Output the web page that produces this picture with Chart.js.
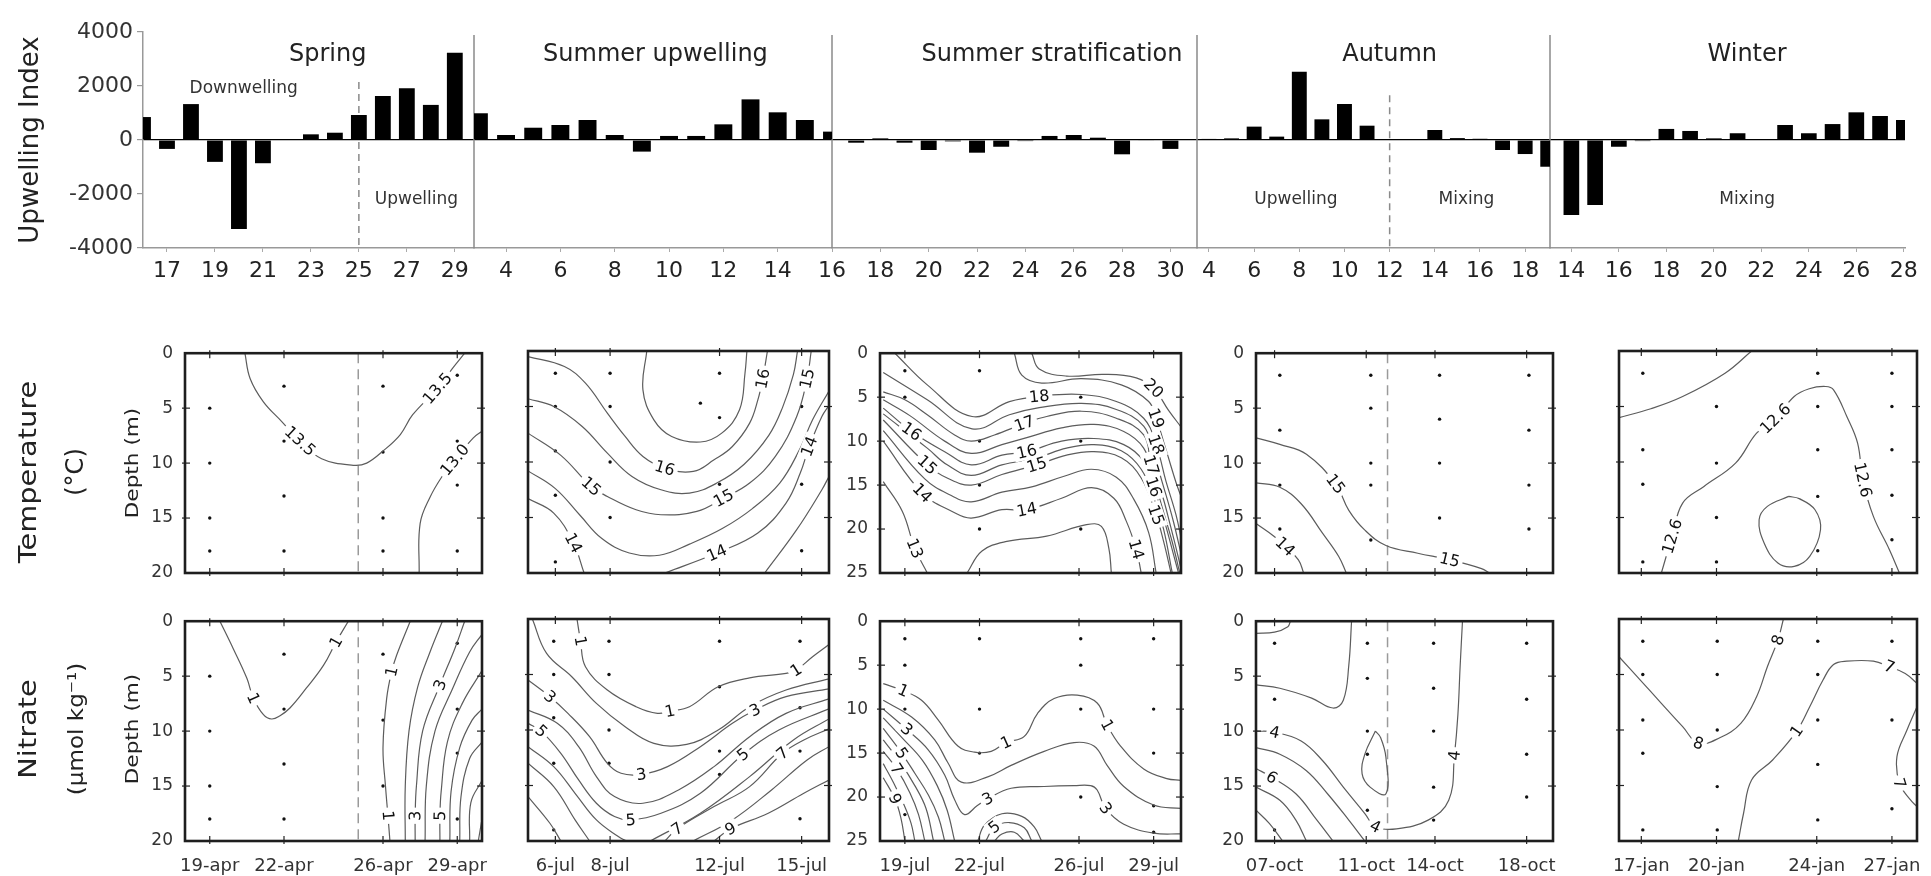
<!DOCTYPE html>
<html>
<head>
<meta charset="utf-8">
<title>Upwelling index, temperature and nitrate by season</title>
<script src="https://cdn.jsdelivr.net/npm/chart.js@4.4.1/dist/chart.umd.min.js"></script>
<style>
  body { margin: 0; background: #fff; }
  #page { position: relative; width: 1931px; height: 876px; overflow: hidden; background: #fff; }
  #page canvas { position: absolute; }
</style>
</head>
<body>
<div id="page"><canvas id="upwelling" width="1931" height="300" style="left:0;top:0"></canvas></div>
<script>
// ---- upwelling index (top bars), one small array per season ----
const springDays = [16, 17, 18, 19, 20, 21, 22, 23, 24, 25, 26, 27, 28, 29];
const springUI = [850, -330, 1330, -810, -3300, -860, 0, 210, 270, 925, 1630, 1915, 1300, 3230];
const springTicks = [17, 19, 21, 23, 25, 27, 29];

const sumUpDays = [3, 4, 5, 6, 7, 8, 9, 10, 11, 12, 13, 14, 15, 16];
const sumUpUI = [990, 185, 455, 555, 740, 185, -430, 150, 150, 580, 1505, 1025, 740, 310];
const sumUpTicks = [4, 6, 8, 10, 12, 14];

const sumStratDays = [17, 18, 19, 20, 21, 22, 23, 24, 25, 26, 27, 28, 29, 30];
const sumStratUI = [-100, 60, -100, -370, -50, -470, -250, -40, 150, 185, 85, -530, -20, -330];
const sumStratTicks = [16, 18, 20, 22, 24, 26, 28, 30];

const autumnDays = [4, 5, 6, 7, 8, 9, 10, 11, 12, 13, 14, 15, 16, 17, 18, 19];
const autumnUI = [40, 60, 495, 125, 2530, 765, 1333, 530, 25, 30, 370, 70, 45, -370, -520, -990];
const autumnTicks = [4, 6, 8, 10, 12, 14, 16, 18];

const winterDays = [14, 15, 16, 17, 18, 19, 20, 21, 22, 23, 24, 25, 26, 27, 28];
const winterUI = [-2780, -2410, -250, -40, 410, 335, 60, 250, 30, 555, 250, 590, 1025, 890, 740];
const winterTicks = [14, 16, 18, 20, 22, 24, 26, 28];

const seasonNames = ['Spring', 'Summer upwelling', 'Summer stratification', 'Autumn', 'Winter'];
const seasonTitleDay = [23.7, 9.5, 25.1, 12.0, 21.4];
const regimeText = ['Downwelling', 'Upwelling', 'Upwelling', 'Mixing', 'Mixing'];
const regimeSeason = [0, 0, 3, 3, 4];
const regimeDay = [20.2, 27.4, 7.85, 15.4, 21.4];
const regimeUI = [1920, -2220, -2220, -2220, -2220];
const dashedDays = [[0, 25, 2150], [3, 12, 1660]]; // season, day, top of line (index units)

// ---- contour panels: date ticks ----
const springPanelDays = [19, 22, 26, 29];
const springPanelLabels = ['19-apr', '22-apr', '26-apr', '29-apr'];
const sumUpPanelDays = [6, 8, 12, 15];
const sumUpPanelLabels = ['6-jul', '8-jul', '12-jul', '15-jul'];
const sumStratPanelDays = [19, 22, 26, 29];
const sumStratPanelLabels = ['19-jul', '22-jul', '26-jul', '29-jul'];
const autumnPanelDays = [7, 11, 14, 18];
const autumnPanelLabels = ['07-oct', '11-oct', '14-oct', '18-oct'];
const winterPanelDays = [17, 20, 24, 27];
const winterPanelLabels = ['17-jan', '20-jan', '24-jan', '27-jan'];

// ---- sampling stations: [day, depths] ----
const springSt = [[19, [5, 10, 15, 18]], [22, [3, 8, 13, 18]], [26, [3, 9, 15, 18]], [29, [2, 8, 12, 18]]];
const sumUpTSt = [[6, [2, 5, 9, 13, 19]], [8, [2, 5, 10, 15]], [11.3, [4.7]], [12, [2, 6, 12]], [15, [5, 12, 18]]];
const sumUpNSt = [[5.94, [2, 5, 8.9, 13, 19]], [7.96, [2, 5, 10, 13]], [12, [2, 6.1, 11.9, 14]], [14.94, [2, 8, 11.9, 18]]];
const sumStratTSt = [[19, [2, 5]], [22, [2, 10, 15, 20]], [26.07, [5, 10, 20]]];
const sumStratNSt = [[19, [2, 5, 10, 15, 22]], [22, [2, 10, 15]], [26.07, [2, 5, 10, 20]], [29, [2, 10, 15, 21, 24]]];
const autumnTSt = [[7.23, [2, 7, 12, 16]], [11.2, [2, 5, 10, 12, 17]], [14.2, [2, 6, 10, 15]], [18.1, [2, 7, 12, 16]]];
const autumnNSt = [[7, [2, 7.1, 19]], [11.05, [2, 5.2, 10, 12.1, 17.2]], [13.94, [2, 6.1, 10, 15.1, 18.1]], [18, [2, 7.1, 12.1, 16]]];
const winterTSt = [[17.06, [2, 8.9, 12, 19]], [20, [5, 10.1, 15, 19]], [24.04, [2, 5, 8.9, 13.1, 18]], [27, [2, 5, 8.9, 13, 17]]];
const winterNSt = [[17.06, [2, 5, 9.1, 12.1, 19]], [20.03, [2, 5, 10, 15.1, 19]], [24.04, [2, 5, 9.1, 13.1, 18.1]], [27, [2, 9.1, 17.1]]];

// ---- contour lines: [day, depth], lab = indexes carrying a label ----
const springTempC = [
  {lev: '13.5', pts: [[20.42, 0], [20.63, 2.3], [21.16, 4.4], [21.9, 6.2], [22.65, 8.0], [23.52, 9.6], [24.8, 10.2], [25.34, 10.0], [26.0, 8.9], [26.7, 7.4], [27.2, 5.6], [28.2, 3.2], [28.8, 1.4], [29.3, 0]], lab: [4, 11]},
  {lev: '13.0', pts: [[27.46, 20], [27.5, 15.5], [27.9, 13.1], [28.45, 11.0], [28.9, 9.7], [29.65, 7.7], [30, 7.1]], lab: [4]}
];
const springNitC = [
  {lev: '1', pts: [[19.41, 0], [19.95, 2.5], [20.5, 5.2], [20.76, 7.0], [21.17, 8.5], [21.5, 8.9], [21.84, 8.6], [22.24, 7.9], [22.9, 6.1], [23.6, 4.0], [24.1, 1.9], [24.6, 0]], lab: [3, 10]},
  {lev: '1', pts: [[27.1, 0], [26.55, 3.1], [26.35, 4.6], [26.15, 7.0], [26.0, 11.5], [26.1, 15], [26.2, 17.7], [26.28, 20]], lab: [2, 6]},
  {lev: '2', pts: [[26.9, 20], [26.9, 15], [27.05, 10], [27.4, 6], [27.9, 2.8], [28.4, 0]], lab: []},
  {lev: '3', pts: [[27.3, 20], [27.3, 17.7], [27.35, 15], [27.6, 10], [28.3, 5.8], [28.9, 2.5], [29.3, 0]], lab: [1, 4]},
  {lev: '4', pts: [[27.7, 20], [27.75, 15], [28.1, 10], [28.8, 6.2], [29.5, 2.8], [30, 1.2]], lab: []},
  {lev: '5', pts: [[28.3, 20], [28.3, 17.7], [28.35, 15.5], [28.6, 11], [29.2, 7.5], [30, 4.5]], lab: [1]},
  {lev: '6', pts: [[28.7, 20], [28.75, 15.5], [29.1, 11.5], [29.6, 9], [30, 8]], lab: []},
  {lev: '7', pts: [[29.1, 20], [29.15, 16], [29.5, 12.5], [30, 11]], lab: []},
  {lev: '8', pts: [[29.5, 20], [29.55, 16.5], [30, 14.5]], lab: []},
  {lev: '9', pts: [[29.85, 20], [30, 18]], lab: []}
];
const sumUpTempC = [
  {lev: '16.5', pts: [[9.34, 0], [9.2, 3.5], [9.6, 6.2], [10.25, 7.7], [11.3, 8.2], [12.08, 7.4], [12.73, 5.3], [12.93, 2], [13.0, 0]], lab: []},
  {lev: '16', pts: [[5, 0.5], [6.33, 1.4], [7.1, 2.9], [7.9, 5.6], [8.55, 7.7], [9.2, 9.5], [10, 10.55], [11.04, 10.85], [11.8, 9.8], [12.47, 8.6], [13.1, 6.5], [13.4, 4.4], [13.58, 2.5], [13.75, 0]], lab: [6, 12]},
  {lev: '15.5', pts: [[5, 4.3], [5.94, 5], [6.98, 6.8], [7.9, 9.2], [8.8, 11.3], [9.86, 12.5], [10.9, 12.8], [11.9, 11.9], [12.9, 10.2], [13.8, 7.6], [14.3, 5.1], [14.7, 2.1], [14.85, 0]], lab: []},
  {lev: '15', pts: [[5, 7.4], [6.2, 9.4], [7.31, 12.2], [7.9, 13.1], [8.95, 14.3], [9.86, 14.75], [11.17, 14.45], [12.15, 13.25], [13.1, 11.9], [14.04, 9.5], [14.82, 5.9], [15.2, 2.5], [15.35, 0]], lab: [2, 7, 11]},
  {lev: '14.5', pts: [[5, 10.8], [6, 12.4], [6.9, 14.8], [7.7, 16.9], [8.7, 18.2], [9.8, 18.4], [10.9, 17.4], [12.1, 16.0], [13.2, 14.2], [14.2, 11.9], [14.9, 9.0], [15.4, 6.2], [16, 3.6]], lab: []},
  {lev: '14', pts: [[5, 13.3], [5.94, 14.6], [6.66, 17.3], [7.05, 20]], lab: [2]},
  {lev: '14', pts: [[10, 20], [11.9, 18.2], [13.4, 16.4], [14.43, 13.7], [14.95, 11], [15.28, 8.6], [15.74, 5.9], [16, 4.9]], lab: [1, 5]},
  {lev: '13.5', pts: [[13.65, 20], [14.82, 16.1], [15.74, 12.5], [16, 11.3]], lab: []}
];
const sumUpNitC = [
  {lev: '1', pts: [[6.79, 0], [6.92, 2.0], [7.1, 4.3], [7.9, 6.4], [8.95, 7.9], [9.73, 8.5], [10.19, 8.3], [10.9, 7.9], [11.95, 6.1], [13.1, 5.3], [14.43, 4.9], [14.8, 4.6], [15.4, 3.4], [16, 2.3]], lab: [1, 6, 11]},
  {lev: '2', pts: [[5.16, 0], [5.68, 3.1], [6.6, 5.2], [7.5, 7.6], [8.55, 9.7], [9.6, 11.2], [10.8, 11.3], [11.95, 10], [13.1, 7.9], [14.43, 6.4], [16, 5.4]], lab: []},
  {lev: '3', pts: [[5, 5.5], [5.8, 7], [6.46, 8.5], [7.25, 10.6], [7.9, 13], [8.4, 13.9], [9.14, 14], [10.1, 13.3], [11.3, 11.5], [12.47, 9.4], [13.3, 8.2], [14.43, 7], [16, 6.3]], lab: [1, 6, 10]},
  {lev: '4', pts: [[5, 8.2], [6.07, 9.4], [6.85, 11.5], [7.5, 14.2], [8.16, 16], [9.2, 16.6], [10.5, 15.4], [11.8, 13.3], [13.1, 10.6], [14.43, 8.5], [16, 7.2]], lab: []},
  {lev: '5', pts: [[5, 9.4], [5.48, 10.1], [6.2, 12.1], [6.85, 14.5], [7.5, 16.6], [8.16, 17.8], [8.75, 18.1], [9.86, 17.5], [11.3, 15.7], [12.86, 12.2], [14.17, 10], [16, 8.1]], lab: [1, 6, 9]},
  {lev: '6', pts: [[5, 11.5], [5.94, 13.3], [6.72, 15.7], [7.5, 18.1], [8.3, 19.6], [8.6, 20]], lab: []},
  {lev: '6', pts: [[9.47, 20], [11.3, 17.5], [13.1, 14.2], [14.7, 10.9], [16, 9.0]], lab: []},
  {lev: '7', pts: [[5, 13], [5.94, 15.1], [6.72, 18.1], [7.25, 20]], lab: []},
  {lev: '7', pts: [[10, 20], [10.45, 18.9], [11.8, 16.9], [13.1, 15.1], [14.3, 12.1], [15.08, 10.9], [16, 9.9]], lab: [1, 4]},
  {lev: '8', pts: [[5, 16], [5.8, 18.4], [6.2, 20]], lab: []},
  {lev: '8', pts: [[11.04, 20], [12.47, 18.1], [13.9, 15.4], [15.2, 12.7], [16, 11.5]], lab: []},
  {lev: '9', pts: [[11.8, 20], [12.4, 18.9], [13.78, 17.5], [15.08, 15.7], [16, 14.5]], lab: [1]}
];
const sumStratTempC = [
  {lev: '20', pts: [[24.1, 0], [24.4, 1.8], [25.5, 2.6], [27.0, 2.4], [28.3, 2.8], [29.0, 4.0], [29.6, 6.5], [30.13, 8.5]], lab: [5]},
  {lev: '19', pts: [[23.4, 0], [23.7, 2.5], [24.5, 3.4], [26.1, 2.9], [27.7, 3.6], [28.8, 5.5], [29.1, 7.4], [29.5, 11], [29.9, 14.7], [30.13, 16.5]], lab: [6]},
  {lev: '18', pts: [[18.6, 0], [19.9, 3.6], [21.7, 7.2], [23.2, 5.5], [24.4, 4.9], [26.1, 4.7], [27.5, 5.5], [28.6, 7.4], [29.1, 10.4], [29.5, 14.6], [29.9, 18.4], [30.13, 21.4]], lab: [4, 8]},
  {lev: '17.5', pts: [[18.13, 2.2], [19.9, 5.3], [21.7, 8.6], [23.2, 7.0], [24.4, 6.2], [26.1, 5.7], [27.5, 6.4], [28.6, 8.3], [29.0, 11.5], [29.4, 15.2], [29.8, 19.2], [30.13, 23.2]], lab: []},
  {lev: '17', pts: [[18.13, 4.4], [19, 5.3], [19.9, 7], [21, 9.3], [21.67, 10], [22.6, 9.3], [23.8, 8], [24.7, 7.2], [26.1, 6.6], [27.5, 7.4], [28.6, 9.3], [28.9, 12.7], [29.3, 15.7], [29.7, 19.9], [30, 23.3], [30.13, 25]], lab: [6, 11]},
  {lev: '16.5', pts: [[18.13, 5.3], [19.2, 7.1], [20.6, 10.0], [21.67, 11.4], [22.9, 10.4], [23.9, 9.6], [25.3, 8.5], [26.6, 8.1], [27.8, 8.9], [28.6, 10.8], [29.0, 14.2], [29.35, 17.6], [29.75, 21.5], [30.05, 25]], lab: []},
  {lev: '16', pts: [[18.13, 6.25], [19.27, 8.9], [20.6, 11.2], [21.67, 12.7], [22.9, 11.6], [23.9, 11.2], [25.3, 10], [26.6, 9.7], [27.8, 10.4], [28.6, 12.3], [29.0, 15.2], [29.4, 18.75], [29.8, 22.9], [30.0, 25]], lab: [1, 5, 10]},
  {lev: '15.5', pts: [[18.13, 6.9], [19.9, 10.8], [20.7, 12.7], [21.67, 13.9], [22.9, 12.7], [24.3, 11.9], [25.5, 10.8], [26.6, 10.4], [27.7, 11.1], [28.5, 13.2], [29.05, 16.8], [29.4, 20], [29.75, 25]], lab: []},
  {lev: '15', pts: [[18.13, 7.6], [19.9, 12.7], [20.7, 14.2], [21.67, 15], [22.9, 13.8], [24.3, 12.7], [25.5, 11.6], [26.6, 11.2], [27.7, 11.9], [28.5, 14.2], [29.1, 18.4], [29.4, 21.4], [29.7, 25]], lab: [1, 5, 10]},
  {lev: '14.5', pts: [[18.13, 8.8], [19.8, 14.3], [20.8, 16.1], [21.67, 16.9], [22.9, 15.8], [24.1, 15.2], [25.4, 14], [26.5, 13.2], [27.5, 14.1], [28.2, 16.6], [28.8, 20.4], [29.1, 25]], lab: []},
  {lev: '14', pts: [[18.13, 10], [19.7, 15.9], [20.9, 18], [21.67, 18.75], [22.9, 17.8], [23.9, 17.8], [25.3, 16.5], [26.5, 15.3], [27.4, 16.5], [27.9, 19.1], [28.3, 22.3], [28.5, 25]], lab: [1, 5, 10]},
  {lev: '13', pts: [[18.13, 14.6], [18.9, 18], [19.4, 22.2], [19.9, 25]], lab: [2]},
  {lev: '13', pts: [[21.5, 25], [22.1, 22.5], [23.1, 21.4], [24.7, 20.8], [26.3, 19.5], [26.9, 19.7], [27.2, 22.2], [27.3, 25]], lab: []}
];
const sumStratNitC = [
  {lev: '1', pts: [[18.13, 7.1], [18.93, 7.9], [19.67, 9], [20.33, 11.2], [21.13, 14.2], [21.8, 14.9], [22.47, 14.8], [23.07, 13.8], [23.8, 13.1], [24.33, 10.5], [25, 8.8], [25.93, 8.4], [26.73, 9.3], [27.13, 11.8], [27.67, 14.2], [28.6, 16.8], [29.53, 17.9], [30.1, 18.1]], lab: [1, 7, 13]},
  {lev: '2', pts: [[18.13, 9], [19.27, 10.9], [20.2, 13.5], [20.73, 16.1], [21.27, 18.3], [22.33, 17.7], [23.27, 16.4], [24.6, 14.8], [25.8, 13.8], [26.6, 14.2], [27.13, 16.4], [27.8, 18.8], [29, 20.9], [30.1, 21.3]], lab: []},
  {lev: '3', pts: [[18.13, 10], [19.07, 12.3], [19.93, 14.6], [20.6, 17.5], [21.0, 20.3], [21.4, 22.0], [21.9, 21.0], [22.33, 20.2], [23.27, 19], [24.6, 18.8], [25.8, 18.7], [26.47, 18.7], [26.73, 19.2], [27.07, 21.3], [27.8, 23.1], [29, 24.1], [30.1, 24.2]], lab: [1, 7, 13]},
  {lev: '4', pts: [[18.13, 11], [18.9, 13.3], [19.7, 15.8], [20.3, 18.7], [20.7, 21.5], [21.0, 25]], lab: []},
  {lev: '5', pts: [[18.13, 12.2], [18.87, 15], [19.4, 17.3], [19.95, 19.8], [20.35, 22.3], [20.6, 25]], lab: [1]},
  {lev: '6', pts: [[18.13, 13.5], [18.8, 16.0], [19.4, 18.7], [19.85, 21.3], [20.15, 25]], lab: []},
  {lev: '7', pts: [[18.13, 14.8], [18.67, 16.8], [19.2, 19.5], [19.55, 22], [19.8, 25]], lab: [1]},
  {lev: '8', pts: [[18.13, 16.2], [18.55, 18.4], [18.95, 20.8], [19.25, 23], [19.4, 25]], lab: []},
  {lev: '9', pts: [[18.13, 17.8], [18.6, 20.2], [18.85, 22.5], [19.0, 25]], lab: [1]},
  {lev: '4', pts: [[21.93, 25], [22.2, 23.2], [22.9, 21.9], [23.7, 22.2], [24.2, 23.4], [24.5, 25]], lab: []},
  {lev: '5', pts: [[22.25, 25], [22.6, 23.4], [23.2, 22.9], [23.8, 23.5], [24.1, 25]], lab: [1]},
  {lev: '6', pts: [[22.6, 25], [22.9, 24.2], [23.4, 24.0], [23.8, 25]], lab: []}
];
const autumnTempC = [
  {lev: '15', pts: [[6.19, 7.7], [7.23, 8.3], [8.39, 9.2], [9.66, 11.9], [10.24, 14.3], [10.94, 16.1], [11.86, 17.5], [13.25, 18.2], [14.64, 18.8], [16.03, 19.6], [16.38, 20]], lab: [3, 8]},
  {lev: '14.5', pts: [[6.19, 11.8], [7.23, 12.2], [8.16, 13.7], [9.1, 16.4], [9.8, 18.5], [10.13, 20]], lab: []},
  {lev: '14', pts: [[6.19, 15.5], [7, 16.7], [7.46, 17.6], [8.04, 18.8], [8.27, 20]], lab: [2]}
];
const autumnNitC = [
  {lev: '3', pts: [[6.19, 1.1], [7, 1], [7.58, 0.5], [7.69, 0]], lab: []},
  {lev: '3', pts: [[6.19, 5.8], [7.23, 6.1], [8.62, 7], [9.55, 7.9], [10, 7.2], [10.24, 4], [10.36, 0]], lab: []},
  {lev: '4', pts: [[6.19, 10], [7, 10.1], [8.16, 10.9], [9.1, 12.7], [10, 15.1], [10.94, 17.5], [11.4, 18.7], [12.32, 18.9], [13.7, 18.1], [14.6, 16.3], [14.85, 12.2], [15, 8.5], [15.1, 4], [15.2, 0]], lab: [1, 6, 10]},
  {lev: '5', pts: [[6.19, 11.5], [7.23, 12.1], [8.39, 13.6], [9.31, 15.7], [10.24, 18.1], [10.94, 20]], lab: []},
  {lev: '6', pts: [[6.19, 13.4], [6.88, 14.2], [7.93, 15.7], [8.85, 18.1], [9.55, 20]], lab: [1]},
  {lev: '7', pts: [[6.19, 15.1], [7.23, 16.3], [7.93, 18.1], [8.39, 20]], lab: []},
  {lev: '8', pts: [[6.19, 17.2], [6.77, 18.4], [7.35, 20]], lab: []},
  {lev: '3', pts: [[11.4, 10], [10.94, 12.1], [10.82, 13.9], [11.17, 15.1], [11.86, 15.7], [11.86, 12.4], [11.63, 10.6], [11.4, 10]], lab: []}
];
const winterTempC = [
  {lev: '12.8', pts: [[21.4, 0], [20.34, 2], [18.65, 4.1], [17.38, 5.2], [16.11, 6]], lab: []},
  {lev: '12.6', pts: [[17.8, 20], [18.23, 16.7], [18.65, 13.7], [19.5, 12.2], [20.76, 10.1], [21.6, 7.4], [22.35, 6.1], [23.1, 4.1], [23.7, 3.4], [24.36, 3.2], [24.67, 3.5], [25.2, 5.9], [25.63, 8.3], [25.84, 11.6], [26.26, 14.9], [26.9, 17.9], [27.3, 20]], lab: [1, 6, 13]},
  {lev: '12.4', pts: [[22.88, 13.1], [22.03, 14], [21.7, 15.2], [21.9, 17.3], [22.45, 19.1], [23.1, 19.4], [23.72, 18.5], [24.15, 16.1], [23.93, 14.3], [23.3, 13.3], [22.88, 13.1]], lab: []}
];
const winterNitC = [
  {lev: '8', pts: [[16.11, 3.4], [16.96, 5.5], [17.8, 7.6], [18.65, 9.7], [19.28, 11.2], [20.13, 10.7], [20.97, 9.4], [21.6, 7], [22.03, 4.3], [22.45, 1.9], [22.67, 0]], lab: [4, 9]},
  {lev: '7', pts: [[20.87, 20], [21.08, 17.5], [21.4, 14.5], [22.24, 12.7], [23.2, 10.1], [23.72, 7.9], [24.25, 5.5], [24.67, 4.1], [25.2, 3.8], [26.26, 3.8], [26.9, 4.3], [27.53, 4.9], [28, 5.8]], lab: [4, 10], txt: ['1', '7']},
  {lev: '7', pts: [[28, 7.9], [27.6, 10], [27.2, 12.4], [27.3, 14.8], [27.74, 16.3], [28, 16.9]], lab: [3]}
];

Chart.defaults.font.family = "'DejaVu Sans', 'Liberation Sans', sans-serif";
Chart.defaults.animation = false;

const page = document.getElementById('page');

function drawText(ctx, s, x, y, font, color, rot, sx) {
  ctx.save();
  ctx.translate(x, y);
  if (rot) ctx.rotate(rot);
  if (sx) ctx.scale(sx, 1);
  ctx.font = font;
  ctx.fillStyle = color;
  ctx.textAlign = 'center';
  ctx.textBaseline = 'middle';
  ctx.fillText(s, 0, 0);
  ctx.restore();
}

// ---------------- top chart ----------------
const seasons = [
  {days: springDays, ui: springUI, ticks: springTicks, min: 16, max: 29.8, w: 331},
  {days: sumUpDays, ui: sumUpUI, ticks: sumUpTicks, min: 2.82, max: 16, w: 358},
  {days: sumStratDays, ui: sumStratUI, ticks: sumStratTicks, min: 16, max: 31.1, w: 365},
  {days: autumnDays, ui: autumnUI, ticks: autumnTicks, min: 3.47, max: 19.1, w: 353},
  {days: winterDays, ui: winterUI, ticks: winterTicks, min: 13.1, max: 28.05, w: 355}
];

const topScales = {
  y: {
    min: -4000, max: 4000,
    ticks: {stepSize: 2000, font: {size: 22}, color: '#333', padding: 4, callback: v => String(v)},
    grid: {
      color: c => (c.tick && c.tick.value === 0 ? '#000' : 'rgba(0,0,0,0)'),
      lineWidth: 1.2, tickColor: '#999', tickLength: 6
    },
    border: {color: '#999', width: 1.5},
    title: {display: true, text: 'Upwelling Index', font: {size: 26}, color: '#222'},
    afterFit: s => { s.width = 131; }
  }
};
seasons.forEach((s, i) => {
  topScales['x' + i] = {
    type: 'linear', position: 'bottom', stack: 'season', stackWeight: s.w,
    min: s.min, max: s.max, offset: false,
    afterBuildTicks: sc => { sc.ticks = s.ticks.map(v => ({value: v})); },
    ticks: {font: {size: 22}, color: '#222', padding: 6, autoSkip: false, maxRotation: 0, minRotation: 0},
    grid: {drawOnChartArea: false, offset: false, tickLength: 4, color: '#aaa'},
    border: {color: '#999', width: 1.5},
    afterFit: sc => { sc.height = 50; }
  };
});

const upwellingDecor = {
  id: 'upwellingDecor',
  beforeDatasetsDraw(chart) {
    const {ctx, chartArea: a, scales: sc} = chart;
    ctx.save();
    ctx.strokeStyle = '#8a8a8a';
    ctx.lineWidth = 1.5;
    for (let i = 1; i < seasons.length; i++) {
      const x = sc['x' + i].left;
      ctx.beginPath(); ctx.moveTo(x, a.top + 3); ctx.lineTo(x, a.bottom); ctx.stroke();
    }
    ctx.setLineDash([7, 5]);
    dashedDays.forEach(([si, day, top]) => {
      const x = sc['x' + si].getPixelForValue(day);
      ctx.beginPath(); ctx.moveTo(x, sc.y.getPixelForValue(top)); ctx.lineTo(x, a.bottom); ctx.stroke();
    });
    ctx.restore();
  },
  afterDatasetsDraw(chart) {
    const {ctx, scales: sc} = chart;
    const ty = sc.y.getPixelForValue(3150);
    seasonNames.forEach((n, i) => {
      drawText(ctx, n, sc['x' + i].getPixelForValue(seasonTitleDay[i]), ty, '24px "DejaVu Sans"', '#222');
    });
    regimeText.forEach((t, i) => {
      const x = sc['x' + regimeSeason[i]].getPixelForValue(regimeDay[i]);
      drawText(ctx, t, x, sc.y.getPixelForValue(regimeUI[i]), '17px "DejaVu Sans"', '#333');
    });
  }
};

new Chart(document.getElementById('upwelling'), {
  type: 'bar',
  data: {
    datasets: seasons.map((s, i) => ({
      xAxisID: 'x' + i, yAxisID: 'y',
      data: s.days.map((d, j) => ({x: d, y: s.ui[j]})),
      backgroundColor: '#000', barPercentage: 0.66, categoryPercentage: 1, grouped: false
    }))
  },
  options: {
    responsive: false, animation: false, events: [],
    layout: {padding: {left: 12, top: 32, right: 26, bottom: 2}},
    plugins: {legend: {display: false}, tooltip: {enabled: false}},
    scales: topScales
  },
  plugins: [upwellingDecor]
});

// ---------------- contour panels ----------------
function panelDecor(p) {
  return {
    id: 'panelDecor',
    beforeDatasetsDraw(chart) {
      if (p.dash == null) return;
      const {ctx, chartArea: a, scales: {x}} = chart;
      const px = x.getPixelForValue(p.dash);
      ctx.save();
      ctx.strokeStyle = '#9a9a9a'; ctx.lineWidth = 1.5; ctx.setLineDash([10, 6]);
      ctx.beginPath(); ctx.moveTo(px, a.top); ctx.lineTo(px, a.bottom); ctx.stroke();
      ctx.restore();
    },
    afterDatasetsDraw(chart) {
      const {ctx, scales: {x, y}} = chart;
      const P = q => [x.getPixelForValue(q[0]), y.getPixelForValue(q[1])];
      ctx.save();
      ctx.font = '16px "DejaVu Sans"';
      ctx.textAlign = 'center'; ctx.textBaseline = 'middle';
      p.lines.forEach(c => {
        c.lab.forEach((i, k) => {
          const n = c.pts.length;
          const p0 = P(c.pts[Math.max(i - 1, 0)]), p1 = P(c.pts[Math.min(i + 1, n - 1)]), pc = P(c.pts[i]);
          let ang = Math.atan2(p1[1] - p0[1], p1[0] - p0[0]);
          if (ang > Math.PI / 2) ang -= Math.PI;
          if (ang < -Math.PI / 2) ang += Math.PI;
          const s = c.txt ? c.txt[k] : c.lev;
          const w = ctx.measureText(s).width;
          ctx.save();
          ctx.translate(pc[0], pc[1]); ctx.rotate(ang);
          ctx.fillStyle = '#fff'; ctx.fillRect(-w / 2 - 3, -8, w + 6, 16);
          ctx.fillStyle = '#111'; ctx.fillText(s, 0, 1);
          ctx.restore();
        });
      });
      ctx.restore();
    },
    afterDraw(chart) {
      const {ctx, chartArea: a, scales: {x, y}} = chart;
      ctx.save();
      ctx.strokeStyle = '#222'; ctx.lineWidth = 1.2;
      const seg = (x0, y0, x1, y1) => { ctx.beginPath(); ctx.moveTo(x0, y0); ctx.lineTo(x1, y1); ctx.stroke(); };
      p.days.forEach(v => {
        const px = x.getPixelForValue(v);
        seg(px, a.top - 3, px, a.top + 5); seg(px, a.bottom + 3, px, a.bottom - 5);
      });
      y.ticks.forEach(t => {
        if (t.value <= 0 || t.value >= p.depth) return;
        const py = y.getPixelForValue(t.value);
        seg(a.left - 3, py, a.left + 5, py); seg(a.right + 3, py, a.right - 5, py);
      });
      ctx.lineWidth = 2.6; ctx.strokeStyle = '#1e1e1e';
      ctx.strokeRect(a.left, a.top, a.right - a.left, a.bottom - a.top);
      ctx.restore();
      if (p.row) {
        const oy = p.top - 12;
        drawText(ctx, p.row[0], 30, p.rowY - oy, '24px "DejaVu Sans"', '#222', -Math.PI / 2, 1.2);
        drawText(ctx, p.row[1], 77, p.rowY - oy, p.row2Font, '#222', -Math.PI / 2, p.row2Sx);
        drawText(ctx, 'Depth (m)', 133, p.depthY - oy, '18px "DejaVu Sans"', '#222', -Math.PI / 2, 1.2);
      }
    }
  };
}

function panel(p) {
  const cv = document.createElement('canvas');
  cv.width = p.yw + p.w + 14;
  cv.height = 222 + 52;
  cv.style.left = (p.left - p.yw) + 'px';
  cv.style.top = (p.top - 12) + 'px';
  page.appendChild(cv);
  const datasets = p.lines.map(c => ({
    data: c.pts.map(q => ({x: q[0], y: q[1]})),
    showLine: true, borderColor: '#5c5c5c', borderWidth: 1.2, pointRadius: 0, tension: 0.4, fill: false
  }));
  datasets.push({
    data: p.st.flatMap(([d, zs]) => zs.map(z => ({x: d, y: z}))),
    showLine: false, pointRadius: 1.7, backgroundColor: '#111', borderWidth: 0
  });
  new Chart(cv, {
    type: 'scatter',
    data: {datasets},
    options: {
      responsive: false, animation: false, events: [],
      layout: {padding: {left: 0, top: 12, right: 14, bottom: 0}},
      plugins: {legend: {display: false}, tooltip: {enabled: false}},
      scales: {
        x: {
          type: 'linear', min: p.xmin, max: p.xmax,
          afterBuildTicks: s => { s.ticks = p.days.map(v => ({value: v})); },
          ticks: {display: p.showX, autoSkip: false, maxRotation: 0, minRotation: 0,
            font: {size: 18}, color: '#333', padding: 7, callback: (v, i) => p.labels[i]},
          grid: {display: false}, border: {display: false},
          afterFit: s => { s.height = 40; }
        },
        y: {
          type: 'linear', reverse: true, min: 0, max: p.depth,
          ticks: {display: p.showY, stepSize: 5, font: {size: 17}, color: '#333', padding: 4},
          grid: {display: false}, border: {display: false},
          afterFit: s => { s.width = p.yw; }
        }
      }
    },
    plugins: [panelDecor(p)]
  });
}

const tRow = 351, nRow = 619;
const cols = [
  {left: 185, w: 297, xmin: 18, xmax: 30, days: springPanelDays, labels: springPanelLabels, depth: 20, showY: true, yw: 185, dash: 25},
  {left: 528, w: 301, xmin: 5, xmax: 16, days: sumUpPanelDays, labels: sumUpPanelLabels, depth: 20, showY: false, yw: 50},
  {left: 880, w: 301, xmin: 18, xmax: 30.1, days: sumStratPanelDays, labels: sumStratPanelLabels, depth: 25, showY: true, yw: 50},
  {left: 1256, w: 297, xmin: 6.19, xmax: 19.15, days: autumnPanelDays, labels: autumnPanelLabels, depth: 20, showY: true, yw: 50, dash: 11.93},
  {left: 1619, w: 298, xmin: 16.11, xmax: 28, days: winterPanelDays, labels: winterPanelLabels, depth: 20, showY: false, yw: 50}
];
const tempLines = [springTempC, sumUpTempC, sumStratTempC, autumnTempC, winterTempC];
const tempSt = [springSt, sumUpTSt, sumStratTSt, autumnTSt, winterTSt];
const nitLines = [springNitC, sumUpNitC, sumStratNitC, autumnNitC, winterNitC];
const nitSt = [springSt, sumUpNSt, sumStratNSt, autumnNSt, winterNSt];

cols.forEach((c, i) => {
  panel(Object.assign({}, c, {top: tRow, showX: false, lines: tempLines[i], st: tempSt[i],
    row: i === 0 ? ['Temperature', '(°C)'] : null, row2Font: '24px "DejaVu Sans"', row2Sx: 1.0, rowY: 472, depthY: 463}));
  panel(Object.assign({}, c, {top: nRow, showX: true, lines: nitLines[i], st: nitSt[i],
    row: i === 0 ? ['Nitrate', '(µmol kg⁻¹)'] : null, row2Font: '22px "DejaVu Sans"', row2Sx: 1.05, rowY: 729, depthY: 729}));
});
</script>
</body>
</html>
